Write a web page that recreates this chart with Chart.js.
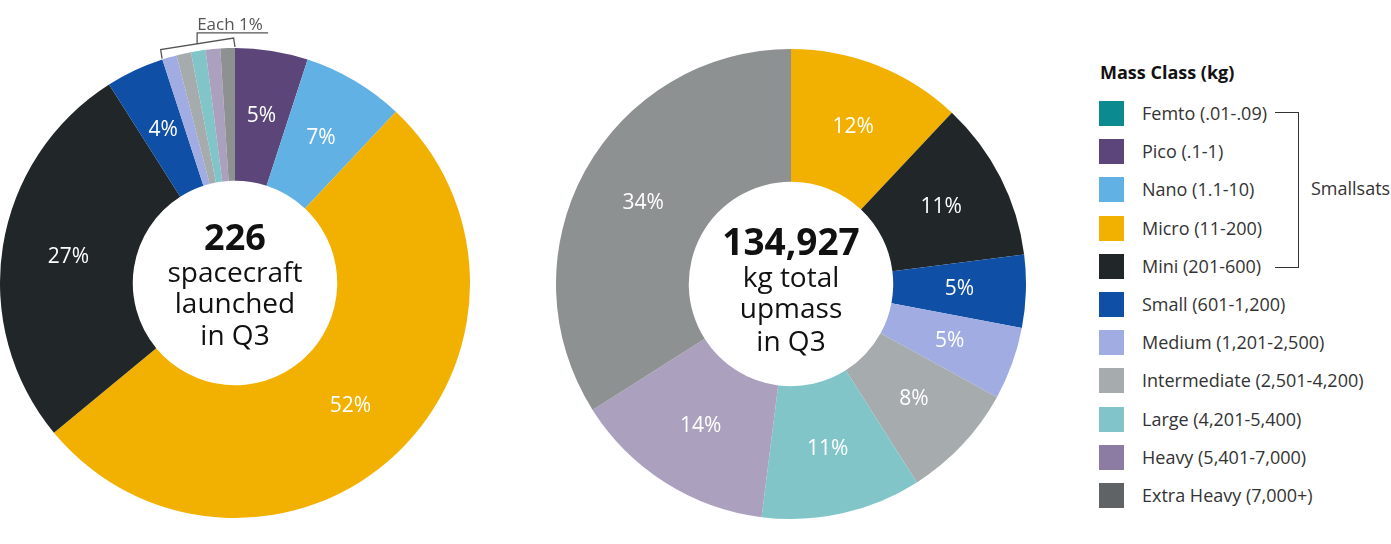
<!DOCTYPE html>
<html lang="en">
<head>
    <meta charset="UTF-8">
    <title>Mass Class Q3</title>
    <script src="https://cdn.jsdelivr.net/npm/chart.js"></script>
    <style>
        body {
            margin: 0;
            background: #fff;
            font-family: "Open Sans", sans-serif;
            color: #333;
        }
        .page {
            position: relative;
            width: 1391px;
            height: 544px;
            overflow: hidden;
        }
        .chart-box {
            position: absolute;
            top: 0;
            width: 470px;
            height: 544px;
        }
        #leftBox { left: 0; }
        #rightBox { left: 556px; }
        .legend-title {
            position: absolute;
            left: 1100px;
            top: 60px;
            font-size: 18px;
            font-weight: bold;
            color: #111;
        }
        .legend-row {
            position: absolute;
            left: 1099px;
            height: 25px;
            line-height: 25px;
            font-size: 18px;
            white-space: nowrap;
        }
        .legend-row .swatch {
            display: inline-block;
            width: 25px;
            height: 25px;
            vertical-align: top;
            margin-right: 18px;
        }
        .bracket {
            position: absolute;
            left: 1275px;
            top: 112px;
            width: 23px;
            height: 154px;
            border: 1.4px solid #333;
            border-left: none;
        }
        .smallsats {
            position: absolute;
            left: 1311px;
            top: 176px;
            font-size: 18px;
        }
    </style>
</head>
<body>
<div class="page">
    <div class="chart-box" id="leftBox"><canvas id="countChart"></canvas></div>
    <div class="chart-box" id="rightBox"><canvas id="massChart"></canvas></div>
    <div class="legend-title">Mass Class (kg)</div>
    <div id="legend"></div>
    <div class="bracket"></div>
    <div class="smallsats">Smallsats</div>
</div>

<script>
    // mass classes, legend order
    const massClasses = ['Femto (.01-.09)', 'Pico (.1-1)', 'Nano (1.1-10)', 'Micro (11-200)', 'Mini (201-600)',
        'Small (601-1,200)', 'Medium (1,201-2,500)', 'Intermediate (2,501-4,200)', 'Large (4,201-5,400)',
        'Heavy (5,401-7,000)', 'Extra Heavy (7,000+)'];

    // share of spacecraft launched in Q3 (%)
    const spacecraftShare = [0, 5, 7, 52, 27, 4, 1, 1, 1, 1, 1];
    // share of total upmass in Q3 (%)
    const upmassShare = [0, 0, 0, 12, 11, 5, 5, 8, 11, 14, 34];

    const sliceColors = ['#0b8a8f', '#5c4679', '#62b1e4', '#f2b100', '#212629', '#0f4fa5',
        '#a0ace2', '#a6abae', '#81c5c8', '#aba0be', '#8e9192'];
    const legendColors = ['#0b8a8f', '#5c4679', '#62b1e4', '#f2b100', '#212629', '#0f4fa5',
        '#a0ace2', '#a6abae', '#81c5c8', '#8c7ca3', '#5f6366'];

    // legend
    const legend = document.getElementById('legend');
    massClasses.forEach((name, i) => {
        const row = document.createElement('div');
        row.className = 'legend-row';
        row.style.top = (101 + i * 38.2) + 'px';
        row.innerHTML = '<span class="swatch" style="background:' + legendColors[i] + '"></span>' + name;
        legend.appendChild(row);
    });

    const sliceLabels = {
        id: 'sliceLabels',
        afterDatasetsDraw(chart, args, opts) {
            const ctx = chart.ctx;
            const data = chart.data.datasets[0].data;
            ctx.save();
            ctx.font = '21px "Open Sans"';
            ctx.fillStyle = '#fff';
            ctx.textAlign = 'center';
            ctx.textBaseline = 'middle';
            chart.getDatasetMeta(0).data.forEach((arc, i) => {
                if (data[i] < opts.minShown) return;
                const p = arc.tooltipPosition();
                ctx.fillText(data[i] + '%', p.x, p.y);
            });
            ctx.restore();
        }
    };

    const centerText = {
        id: 'centerText',
        afterDatasetsDraw(chart, args, opts) {
            const ctx = chart.ctx;
            const arc = chart.getDatasetMeta(0).data[0];
            ctx.save();
            ctx.fillStyle = '#111';
            ctx.textAlign = 'center';
            ctx.textBaseline = 'alphabetic';
            opts.lines.forEach(l => {
                ctx.font = l.font;
                ctx.fillText(l.text, arc.x, arc.y + l.dy);
            });
            ctx.restore();
        }
    };

    // "Each 1%" bracket over the small slices
    const eachBracket = {
        id: 'eachBracket',
        afterDatasetsDraw(chart, args, opts) {
            if (!opts.display) return;
            const ctx = chart.ctx;
            const meta = chart.getDatasetMeta(0);
            const first = meta.data[opts.from], last = meta.data[opts.to];
            const cx = first.x, cy = first.y, r = first.outerRadius + 1;
            const a0 = first.startAngle, a1 = last.endAngle, am = (a0 + a1) / 2;
            const nx = Math.cos(am), ny = Math.sin(am), off = 9;
            const p0 = [cx + r * Math.cos(a0), cy + r * Math.sin(a0)];
            const p1 = [cx + r * Math.cos(a1), cy + r * Math.sin(a1)];
            const q0 = [p0[0] + nx * off, p0[1] + ny * off];
            const q1 = [p1[0] + nx * off, p1[1] + ny * off];
            const m = [(q0[0] + q1[0]) / 2, (q0[1] + q1[1]) / 2];
            ctx.save();
            ctx.strokeStyle = '#555';
            ctx.lineWidth = 1.3;
            ctx.beginPath();
            ctx.moveTo(p0[0], p0[1]);
            ctx.lineTo(q0[0], q0[1]);
            ctx.lineTo(q1[0], q1[1]);
            ctx.lineTo(p1[0], p1[1]);
            ctx.moveTo(m[0], m[1]);
            ctx.lineTo(m[0], m[1] - 11);
            ctx.lineTo(m[0] + 71, m[1] - 11);
            ctx.stroke();
            ctx.fillStyle = '#555';
            ctx.font = '17px "Open Sans"';
            ctx.textAlign = 'left';
            ctx.fillText('Each 1%', m[0], m[1] - 14);
            ctx.restore();
        }
    };

    function makeDonut(id, values, pad, lines, bracket) {
        return new Chart(document.getElementById(id), {
            type: 'doughnut',
            data: {
                labels: massClasses,
                datasets: [{
                    data: values,
                    backgroundColor: sliceColors,
                    borderWidth: 0
                }]
            },
            options: {
                responsive: true,
                maintainAspectRatio: false,
                animation: false,
                cutout: '43.5%',
                layout: { padding: pad },
                plugins: {
                    legend: { display: false },
                    tooltip: { enabled: false },
                    sliceLabels: { minShown: 2 },
                    centerText: { lines: lines },
                    eachBracket: bracket
                }
            },
            plugins: [sliceLabels, centerText, eachBracket]
        });
    }

    makeDonut('countChart', spacecraftShare, { top: 48, bottom: 26 }, [
        { text: '226', font: 'bold 36px "Open Sans"', dy: -33 },
        { text: 'spacecraft', font: '28px "Open Sans"', dy: -1 },
        { text: 'launched', font: '28px "Open Sans"', dy: 30 },
        { text: 'in Q3', font: '28px "Open Sans"', dy: 62 }
    ], { display: true, from: 6, to: 10 });

    makeDonut('massChart', upmassShare, { top: 49, bottom: 25 }, [
        { text: '134,927', font: 'bold 37px "Open Sans"', dy: -29 },
        { text: 'kg total', font: '28px "Open Sans"', dy: 3 },
        { text: 'upmass', font: '28px "Open Sans"', dy: 34 },
        { text: 'in Q3', font: '28px "Open Sans"', dy: 67 }
    ], { display: false });
</script>
</body>
</html>
